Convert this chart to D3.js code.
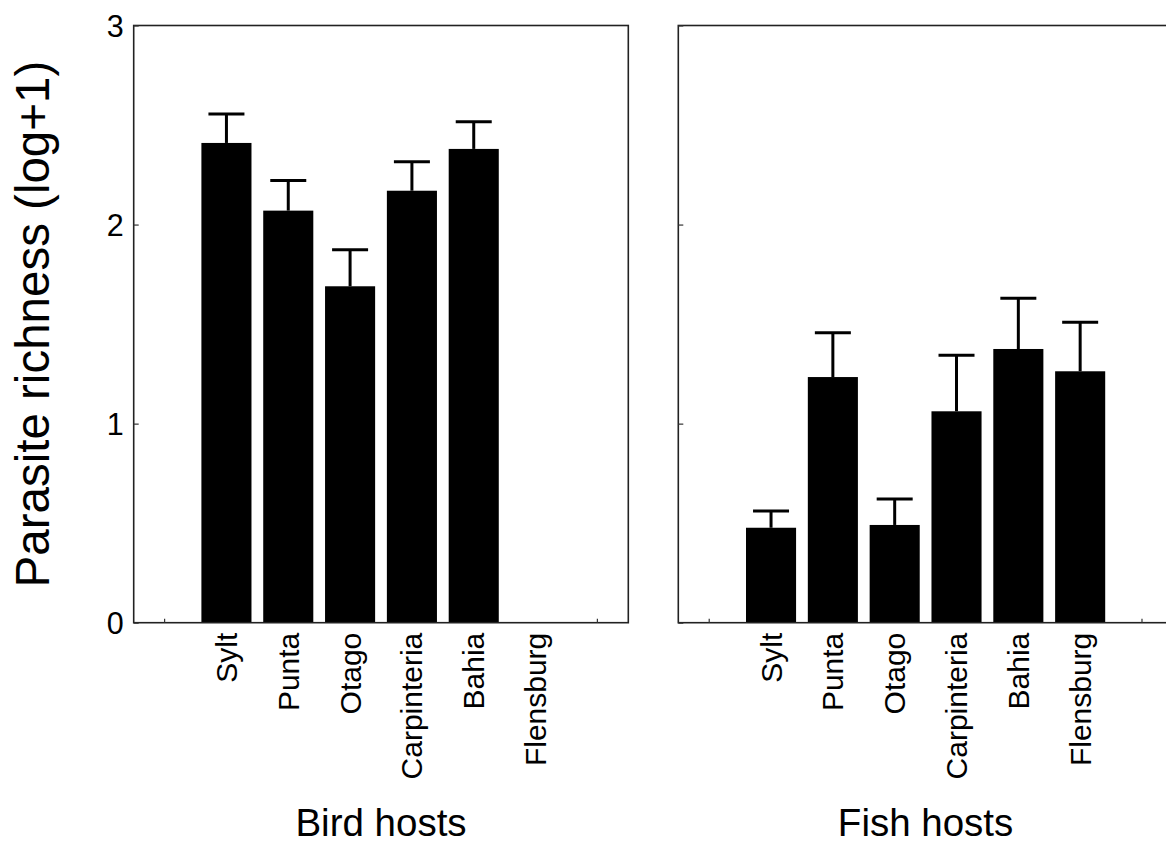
<!DOCTYPE html>
<html>
<head>
<meta charset="utf-8">
<script src="https://cdn.jsdelivr.net/npm/d3@7"></script>
<style>
  html, body { margin: 0; padding: 0; background: #fff; }
  svg { display: block; }
  text { font-family: "Liberation Sans", Arial, sans-serif; fill: #000; }
</style>
</head>
<body>
<svg id="chart" width="1166" height="843"></svg>
<script>
// Sampling sites (shared by both host groups)
const sites = ["Sylt", "Punta", "Otago", "Carpinteria", "Bahia", "Flensburg"];

// Bird hosts: mean parasite richness (log+1) and standard error
const birdMean = [2.41, 2.07, 1.69, 2.17, 2.38, null];
const birdSE   = [0.146, 0.151, 0.184, 0.145, 0.136, null];

// Fish hosts: mean parasite richness (log+1) and standard error
const fishMean = [0.477, 1.234, 0.491, 1.062, 1.375, 1.263];
const fishSE   = [0.084, 0.223, 0.130, 0.281, 0.255, 0.246];

const yTicks = [0, 1, 2, 3];
const panelTitles = ["Bird hosts", "Fish hosts"];
const yTitle = "Parasite richness (log+1)";

const svg = d3.select("#chart");

const panelW = 494.6, panelH = 597.2, panelTop = 25.5;
const panelX = [133.7, 678.3];

// empty slots on both ends carry the x tick marks
const slots = ["__start", ...sites, "__end"];
const x = d3.scaleBand().domain(slots).range([0, panelW])
  .paddingInner(0.19).paddingOuter(0.095);
const y = d3.scaleLinear().domain([0, 3]).range([panelH, 0]);

const panels = [
  { mean: birdMean, se: birdSE, title: panelTitles[0], labels: true },
  { mean: fishMean, se: fishSE, title: panelTitles[1], labels: false }
];

panels.forEach((p, i) => {
  const g = svg.append("g").attr("transform", `translate(${panelX[i]},${panelTop})`);
  const rows = sites.map((s, j) => ({ site: s, mean: p.mean[j], se: p.se[j] }))
    .filter(d => d.mean != null);

  // bars
  g.selectAll("rect.bar").data(rows).join("rect")
    .attr("class", "bar")
    .attr("x", d => x(d.site))
    .attr("width", x.bandwidth())
    .attr("y", d => y(d.mean))
    .attr("height", d => y(0) - y(d.mean))
    .attr("fill", "#000");

  // upper error whiskers
  const cx = d => x(d.site) + x.bandwidth() / 2;
  g.selectAll("line.whisker").data(rows).join("line")
    .attr("class", "whisker")
    .attr("x1", cx).attr("x2", cx)
    .attr("y1", d => y(d.mean)).attr("y2", d => y(d.mean + d.se))
    .attr("stroke", "#000").attr("stroke-width", 3);
  g.selectAll("line.cap").data(rows).join("line")
    .attr("class", "cap")
    .attr("x1", d => cx(d) - 18).attr("x2", d => cx(d) + 18)
    .attr("y1", d => y(d.mean + d.se)).attr("y2", d => y(d.mean + d.se))
    .attr("stroke", "#000").attr("stroke-width", 3);

  // frame
  g.append("rect")
    .attr("x", 0).attr("y", 0).attr("width", panelW).attr("height", panelH)
    .attr("fill", "none").attr("stroke", "#222").attr("stroke-width", 1.6);

  // y ticks (inward)
  const yAxis = d3.axisLeft(y).tickValues(yTicks).tickSizeInner(-5).tickSizeOuter(0)
    .tickFormat(p.labels ? d3.format("d") : () => "");
  const ya = g.append("g").call(yAxis);
  ya.select(".domain").remove();
  ya.selectAll(".tick line").attr("stroke", "#333").attr("stroke-width", 1.2);
  ya.selectAll(".tick text")
    .attr("x", -10).attr("dy", "0.36em")
    .attr("font-size", 30.5).attr("fill", "#000")
    .attr("font-family", "Liberation Sans, Arial, sans-serif");

  // x ticks at the empty end slots (inward)
  const xAxis = d3.axisBottom(x).tickValues(["__start", "__end"])
    .tickSizeInner(-4).tickSizeOuter(0).tickFormat(() => "");
  const xa = g.append("g").attr("transform", `translate(0,${panelH})`).call(xAxis);
  xa.select(".domain").remove();
  xa.selectAll(".tick line").attr("stroke", "#333").attr("stroke-width", 1.2);

  // rotated site labels
  g.selectAll("text.site").data(sites).join("text")
    .attr("class", "site")
    .attr("transform", d => `translate(${x(d) + x.bandwidth() / 2},${panelH + 10}) rotate(-90)`)
    .attr("text-anchor", "end")
    .attr("dy", "0.35em")
    .attr("font-size", 30)
    .text(d => d);

  // panel title
  g.append("text")
    .attr("x", panelW / 2).attr("y", 836 - panelTop)
    .attr("text-anchor", "middle")
    .attr("font-size", 38.5)
    .text(p.title);
});

// y-axis title
svg.append("text")
  .attr("transform", `translate(49,${panelTop + panelH / 2}) rotate(-90)`)
  .attr("text-anchor", "middle")
  .attr("font-size", 47.5)
  .text(yTitle);
</script>
</body>
</html>
